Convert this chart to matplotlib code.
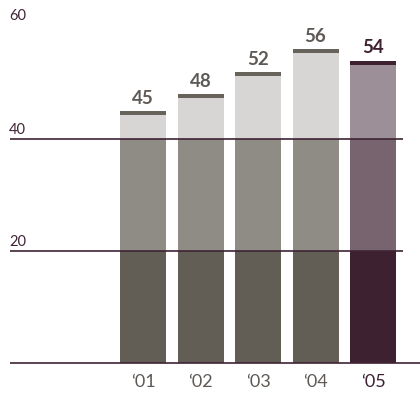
import matplotlib
matplotlib.use("Agg")
import matplotlib.pyplot as plt

years = ["‘01", "‘02", "‘03", "‘04", "‘05"]
values = [45, 48, 52, 56, 54]
bands = [20, 40]          # boundaries between the stacked shades
yticks = [20, 40, 60]

grey_shades = ["#625e56", "#8f8c85", "#d7d6d4"]
grey_cap = "#67625a"
plum_shades = ["#3e2131", "#78646e", "#9d8f98"]
plum_cap = "#3e2131"
rule_color = "#3f2435"
label_grey = "#5e5955"

plt.rcParams["font.family"] = ["Lato", "DejaVu Sans"]

W, H = 420, 396
fig = plt.figure(figsize=(W / 100, H / 100), dpi=100)
# axes in pixel terms: x from 10 to 403, y=0 at row 363.3, y=60 at row 27
y0_px, y60_px = 363.3, 27.0
ax = fig.add_axes([10 / W, (H - y0_px) / H, 393 / W, (y0_px - y60_px) / H])
ax.set_ylim(0, 60)
step = 57.5
ax.set_xlim(-(143 - 10) / step, 4 + (403 - 373) / step)
ax.axis("off")

width = 46 / step
cap_h = 0.7
for i, (yr, v) in enumerate(zip(years, values)):
    last = i == len(values) - 1
    shades = plum_shades if last else grey_shades
    cap = plum_cap if last else grey_cap
    edges = [0] + bands + [v - cap_h]
    for k in range(3):
        ax.bar(i, edges[k + 1] - edges[k], bottom=edges[k], width=width,
               color=shades[k], linewidth=0, zorder=2)
    ax.bar(i, cap_h, bottom=v - cap_h, width=width, color=cap,
           linewidth=0, zorder=2)
    ax.text(i, v + 1.3, str(v), ha="center", va="baseline",
            fontsize=13.5, fontweight="bold",
            color=plum_cap if last else label_grey, zorder=4)
    ax.text(i, -4.3, yr, ha="center", va="baseline", fontsize=13,
            color=plum_cap if last else label_grey, clip_on=False)

# horizontal rules
ax.plot([-(143 - 10) / step, 4 + (420 - 373) / step], [0, 0],
        color=rule_color, lw=1.2, clip_on=False, zorder=3,
        solid_capstyle="butt")
for b in bands:
    ax.axhline(b, color=rule_color, lw=1.2, zorder=3)

# value scale labels
xl = -(143 - 9) / step
label_off = {20: 0.95, 40: 0.95, 60: 1.3}
for t in yticks:
    ax.text(xl, t + label_off[t], str(t), ha="left", va="baseline",
            fontsize=10.5, color=rule_color, clip_on=False)

fig.savefig("out.png", dpi=100)
